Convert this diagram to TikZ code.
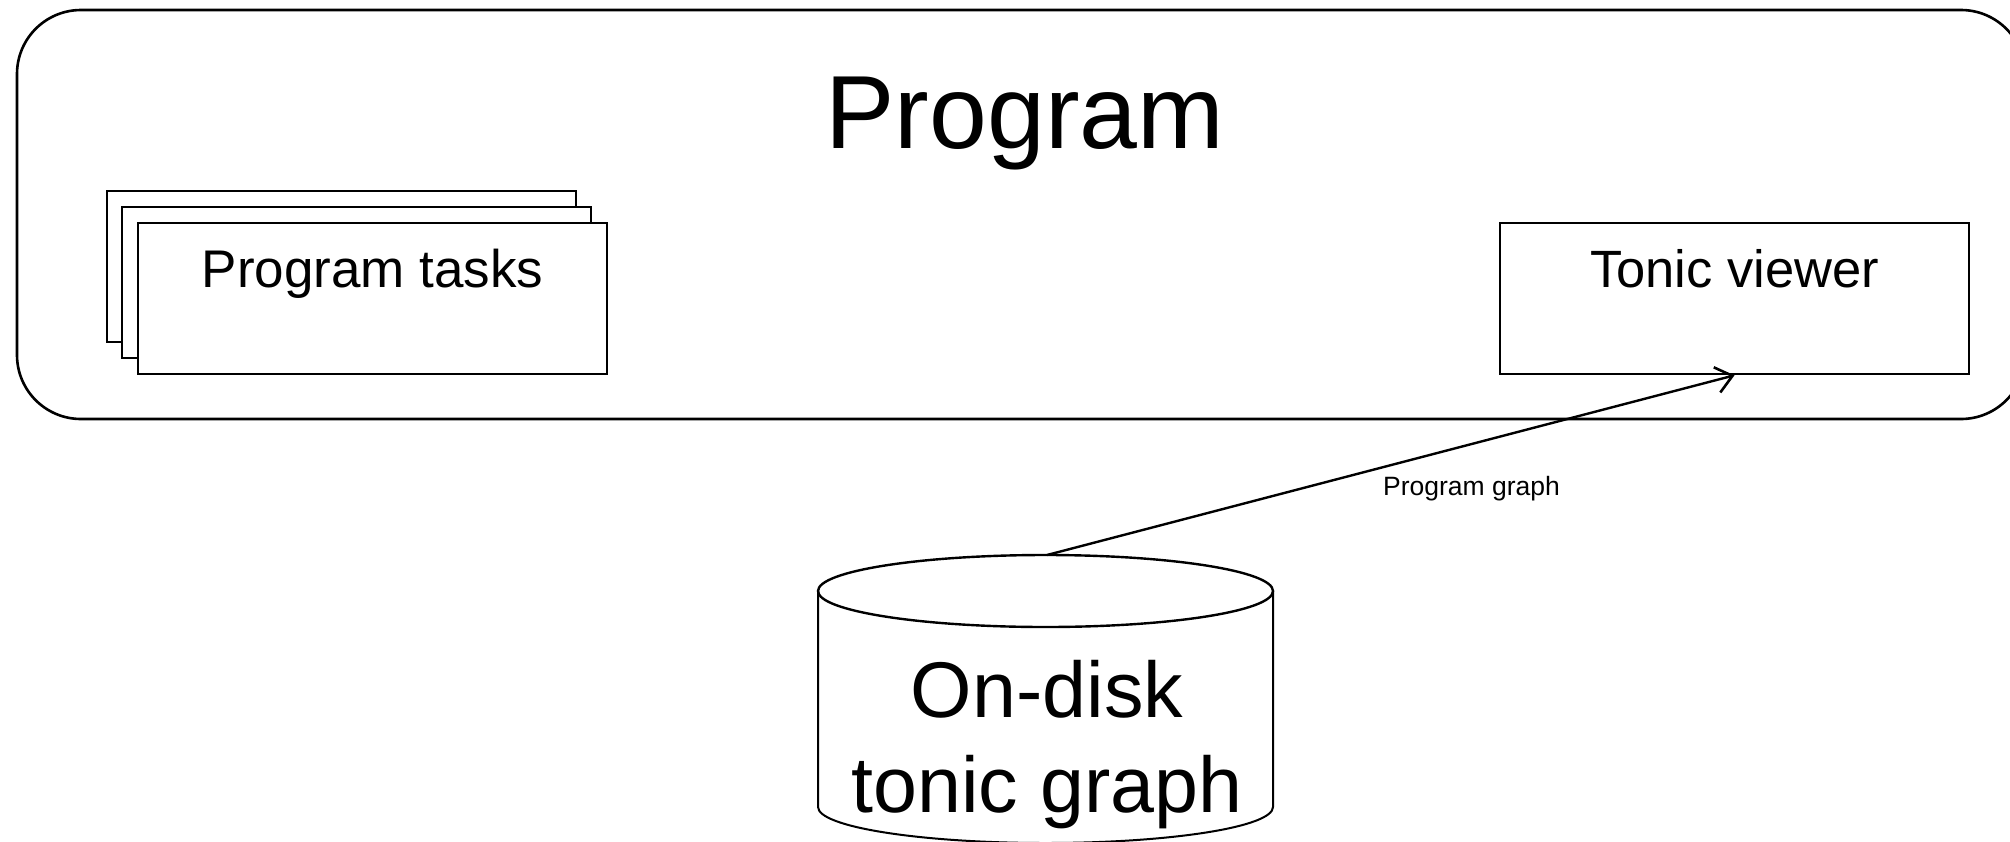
\documentclass[tikz,border=0pt]{standalone}
\usepackage{fontspec}
\setmainfont{Liberation Sans}
\usetikzlibrary{arrows.meta}

\begin{document}
\begin{tikzpicture}[x=1pt,y=-1pt,
  box/.style={draw=black, fill=white, line width=2.6pt, inner sep=0pt,
              minimum width=469pt, minimum height=151pt},
  lbl/.style={anchor=base, inner sep=0pt, text=black},
  link/.style={draw=black, line width=2.4pt,
               -{Straight Barb[length=16pt,width=26pt,line width=2.6pt]}}]

  \useasboundingbox (0,0) rectangle (2010,841);
  \clip (0,0) rectangle (2010,841);

  % outer program container (runs past the right edge)
  \node[draw=black, line width=2.6pt, rounded corners=64pt, inner sep=0pt,
        minimum width=2008pt, minimum height=409pt] (prog) at (1021,214.5) {};
  \node[lbl] (progtitle) at (1025,148) {\fontsize{104}{125}\selectfont Program};

  % stack of task boxes
  \node[box] (task3) at (341.5,266.5) {};
  \node[box] (task2) at (356.5,282.5) {};
  \node[box] (task1) at (372.5,298.5) {};
  \node[lbl] (tasktext) at (372.5,287) {\fontsize{53}{64}\selectfont Program tasks};

  % viewer box
  \node[box] (viewer) at (1734.5,298.5) {};
  \node[lbl] (viewertext) at (1734.5,287) {\fontsize{52.5}{63}\selectfont Tonic viewer};

  % on-disk store drawn as a cylinder
  \fill[white] (818,591) -- (818,807) arc[start angle=180, end angle=0, x radius=227.5, y radius=36]
     -- (1273,591) arc[start angle=0, end angle=180, x radius=227.5, y radius=36] -- cycle;
  \draw[line width=2pt] (818,591) -- (818,807)
     arc[start angle=180, end angle=0, x radius=227.5, y radius=36] -- (1273,591);
  \draw[line width=2.4pt] (1045.5,591) ellipse[x radius=227.5, y radius=36];
  \coordinate (disk) at (1047,555);
  \node[lbl] (disktext1) at (1047,717) {\fontsize{79}{95}\selectfont On-disk};
  \node[lbl] (disktext2) at (1047,812) {\fontsize{79}{95}\selectfont tonic graph};

  % data flow from disk to viewer
  \draw[link] (disk) -- (viewer.south);
  \node[lbl] (linklabel) at (1471.5,495) {\fontsize{26.5}{32}\selectfont Program graph};
\end{tikzpicture}
\end{document}
